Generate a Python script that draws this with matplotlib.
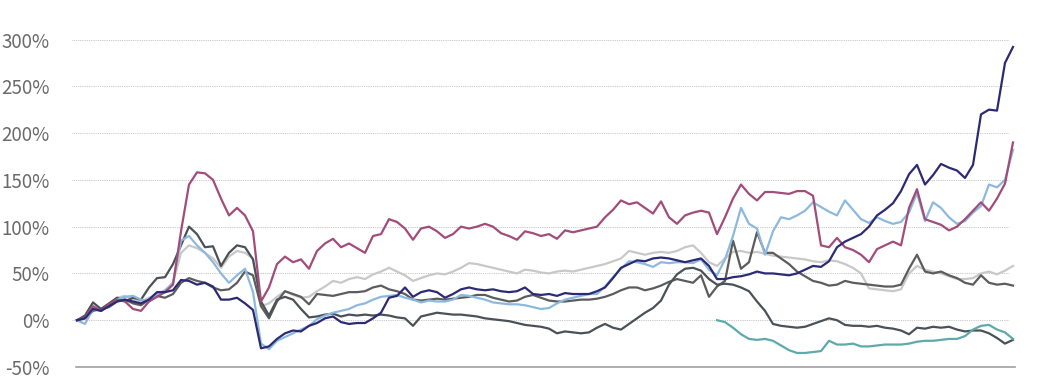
import numpy as np
import matplotlib
matplotlib.use("Agg")
import matplotlib.pyplot as plt
from matplotlib.ticker import FuncFormatter

plt.rcParams['font.family'] = ['Noto Sans CJK SC', 'DejaVu Sans']

# 交易日序号（每个点约为一周）
days = list(range(118))

navy = [0, 2, 12, 10, 15, 20, 22, 20, 18, 22, 30, 30, 32, 43, 42, 38, 40, 36, 22, 22,
        24, 18, 11, -30, -28, -20, -14, -11, -12, -6, -3, 2, 4, -2, -4, -3, -3, 2, 8, 24,
        26, 35, 25, 30, 32, 30, 24, 28, 33, 35, 33, 32, 33, 31, 30, 31, 35, 28, 27, 28,
        26, 29, 28, 28, 28, 31, 35, 45, 56, 60, 64, 63, 66, 67, 66, 64, 62, 64, 66, 58,
        44, 44, 46, 47, 49, 52, 50, 50, 49, 48, 50, 54, 58, 57, 63, 78, 84, 88, 92, 100,
        112, 118, 125, 138, 156, 166, 145, 155, 167, 163, 160, 152, 166, 220, 225, 224, 275, 292]

plum = [0, 3, 15, 10, 17, 22, 20, 12, 10, 20, 25, 30, 38, 95, 145, 158, 157, 150, 130, 112,
        120, 112, 95, 20, 35, 60, 68, 62, 65, 55, 74, 82, 87, 78, 82, 77, 72, 90, 92, 108,
        105, 98, 86, 98, 100, 95, 88, 92, 100, 98, 100, 103, 100, 93, 90, 86, 95, 93, 90, 92,
        87, 96, 94, 96, 98, 100, 110, 118, 128, 124, 126, 120, 114, 127, 110, 103, 112, 115, 117, 115,
        92, 110, 130, 145, 135, 128, 137, 137, 136, 135, 138, 138, 133, 80, 78, 88, 78, 75, 70, 62,
        76, 80, 84, 80, 120, 140, 108, 105, 102, 96, 100, 108, 117, 126, 117, 130, 146, 190]

light_blue = [0, -4, 12, 10, 15, 22, 25, 26, 22, 20, 28, 32, 40, 85, 90, 80, 72, 62, 50, 40,
              48, 55, 30, -25, -31, -22, -18, -14, -10, -6, 1, 5, 8, 10, 12, 16, 18, 22, 25, 26,
              27, 24, 22, 19, 21, 20, 20, 22, 27, 26, 24, 22, 19, 18, 17, 17, 16, 14, 12, 13,
              18, 22, 24, 26, 28, 28, 36, 46, 55, 63, 62, 60, 57, 62, 61, 62, 62, 61, 65, 54,
              48, 65, 90, 120, 103, 98, 70, 95, 110, 108, 112, 117, 126, 121, 116, 112, 128, 118, 108, 104,
              110, 106, 103, 105, 115, 136, 106, 126, 120, 110, 103, 106, 115, 122, 145, 142, 150, 182]

dark_a = [0, 5, 19, 12, 18, 24, 20, 24, 22, 35, 45, 46, 60, 80, 100, 92, 78, 79, 58, 72,
          80, 78, 65, 20, 5, 22, 25, 22, 12, 3, 4, 6, 7, 4, 6, 5, 6, 5, 6, 5,
          3, 2, -6, 4, 6, 8, 7, 6, 6, 5, 4, 2, 1, 0, -1, -3, -5, -6, -7, -9,
          -14, -12, -13, -14, -13, -8, -4, -8, -10, -4, 2, 8, 13, 21, 38, 49, 55, 56, 53, 44,
          38, 39, 38, 35, 31, 20, 10, -4, -6, -7, -8, -7, -4, -1, 2, 0, -5, -6, -6, -7,
          -6, -8, -9, -11, -15, -8, -9, -7, -8, -7, -10, -12, -11, -11, -14, -19, -25, -21]

dark_b = [0, 2, 10, 12, 14, 20, 22, 18, 16, 22, 26, 24, 28, 40, 45, 42, 40, 35, 32, 33,
          40, 52, 48, 15, 2, 20, 31, 28, 25, 17, 28, 27, 26, 28, 30, 30, 31, 35, 37, 33,
          31, 28, 22, 21, 22, 23, 22, 23, 24, 25, 27, 27, 24, 22, 20, 21, 25, 27, 24, 21,
          20, 20, 21, 22, 22, 23, 25, 28, 32, 35, 35, 32, 34, 37, 41, 44, 42, 40, 48, 25,
          36, 42, 85, 55, 62, 94, 72, 72, 66, 60, 52, 47, 42, 40, 37, 38, 42, 40, 39, 38,
          37, 36, 36, 38, 55, 70, 52, 50, 52, 48, 45, 40, 38, 48, 40, 38, 39, 37]

light_gray = [0, 3, 12, 10, 16, 24, 26, 22, 20, 24, 28, 30, 40, 72, 80, 77, 72, 66, 56, 68,
              74, 72, 66, 15, 18, 25, 31, 27, 24, 25, 31, 36, 42, 40, 44, 46, 44, 49, 52, 56,
              52, 48, 42, 45, 48, 50, 49, 52, 56, 61, 60, 58, 56, 54, 52, 50, 54, 53, 51, 50,
              52, 53, 52, 54, 56, 58, 60, 63, 66, 74, 72, 70, 72, 73, 72, 74, 78, 80, 72, 62,
              58, 66, 73, 74, 72, 73, 71, 69, 68, 67, 66, 65, 63, 62, 64, 63, 60, 56, 50, 34,
              33, 32, 31, 33, 50, 58, 54, 52, 50, 47, 44, 44, 45, 50, 52, 49, 53, 58]

# 青色序列从第80个点开始
teal_start = 80
teal = [0, -2, -8, -15, -20, -21, -20, -22, -27, -32, -35, -35, -34, -33, -22, -26, -26, -25, -28, -28,
        -27, -26, -26, -26, -25, -23, -22, -22, -21, -20, -20, -17, -10, -6, -5, -10, -13, -20]

y_ticks = [-50, 0, 50, 100, 150, 200, 250, 300]

W, H = 1042, 378
fig = plt.figure(figsize=(W / 100, H / 100), dpi=100)
ax = fig.add_axes([72 / W, 11 / H, 942 / W, 327.5 / H])

series = [
    (light_gray, '#c8c8c8', 0),
    (dark_b, '#5c5c5c', 0),
    (dark_a, '#4a5157', 0),
    (teal, '#5ea9aa', teal_start),
    (light_blue, '#8db9de', 0),
    (plum, '#a24c79', 0),
    (navy, '#2c2a74', 0),
]
for vals, color, start in series:
    xs = days[start:start + len(vals)]
    ax.plot(xs, vals, color=color, linewidth=1.6, solid_joinstyle='round', clip_on=False)

ax.set_xlim(-0.625, 117.125)
ax.set_ylim(-50, 300)
ax.set_yticks(y_ticks)
ax.yaxis.set_major_formatter(FuncFormatter(lambda v, p: f'{int(v)}%'))
ax.set_xticks([])

# 虚线网格
for t in y_ticks[1:]:
    ax.axhline(t, color='#b4b4b4', linewidth=0.6, linestyle=(0, (1, 1.2)), zorder=0,
               xmax=0.995)

for s in ['top', 'right', 'left']:
    ax.spines[s].set_visible(False)
ax.spines['bottom'].set_color('#a0a0a8')
ax.spines['bottom'].set_linewidth(1.2)
ax.spines['bottom'].set_bounds(-0.125, 117.25)

ax.tick_params(axis='y', length=0, pad=16, labelsize=13.5, labelcolor='#6a6a6a')
for lab in ax.get_yticklabels():
    lab.set_fontweight('light')

fig.savefig('out.png', dpi=100, facecolor='white')
